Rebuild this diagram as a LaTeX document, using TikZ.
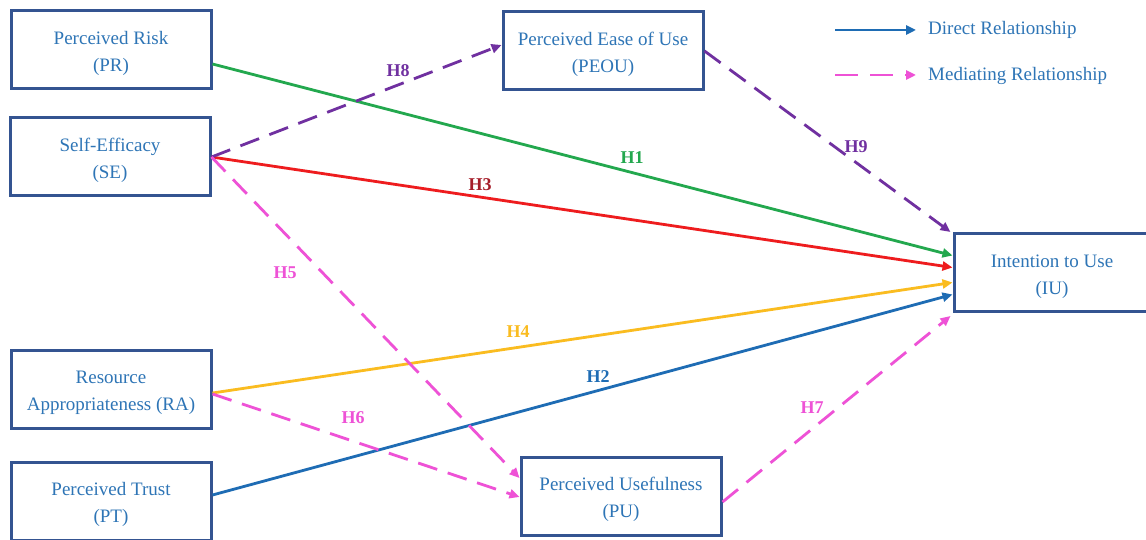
\documentclass[tikz,border=0pt]{standalone}
\usepackage{fontspec}
\setmainfont{Liberation Serif}
\usetikzlibrary{arrows.meta,calc}
\definecolor{boxc}{RGB}{52,84,145}
\definecolor{txtc}{RGB}{46,117,182}
\definecolor{cgreen}{RGB}{35,168,78}
\definecolor{cred}{RGB}{238,28,30}
\definecolor{cdred}{RGB}{165,28,40}
\definecolor{cpurp}{RGB}{112,48,160}
\definecolor{cmag}{RGB}{238,82,214}
\definecolor{cyel}{RGB}{250,188,32}
\definecolor{cblue}{RGB}{30,108,180}
\newcommand{\tstrut}{\rule{0pt}{21pt}}
\begin{document}
\begin{tikzpicture}[x=1pt,y=-1pt,
  box/.style={draw=boxc,line width=3pt,minimum width=200pt,minimum height=78pt,align=center,text=txtc,font=\fontsize{19}{27}\selectfont,inner sep=0pt},
  rel/.style={line width=2.8pt,-{Triangle[length=10pt,width=9pt]}},
  med/.style={rel,dash pattern=on 20pt off 11pt},
  hlab/.style={font=\fontsize{18}{20}\selectfont\bfseries,inner sep=1pt},
  legtext/.style={anchor=west,text=txtc,font=\fontsize{19}{22}\selectfont,inner sep=0pt}]
\useasboundingbox (0,0) rectangle (1146,540);
\fill[white] (0,0) rectangle (1146,540);

% boxes
\node[box] (pr) at (111,50) {\tstrut Perceived Risk\\(PR)};
\node[box] (se) at (110,157) {\tstrut Self-Efficacy\\(SE)};
\node[box] (peou) at (603,51) {\tstrut Perceived Ease of Use\\(PEOU)};
\node[box,minimum width=196pt] (iu) at (1052,272.5) {\tstrut Intention to Use\\(IU)};
\node[box] (ra) at (111,389) {\tstrut Resource\\Appropriateness (RA)};
\node[box] (pt) at (111,501) {\tstrut Perceived Trust\\(PT)};
\node[box] (pu) at (621,496) {\tstrut Perceived Usefulness\\(PU)};

% direct relationships
\draw[rel,cgreen] ($(pr.east)+(0,14)$) -- ($(iu.west)+(0,-17)$);
\draw[rel,cred] (se.east) -- ($(iu.west)+(0,-5)$);
\draw[rel,cyel] ($(ra.east)+(0,4)$) -- ($(iu.west)+(0,10)$);
\draw[rel,cblue] ($(pt.east)+(0,-6)$) -- ($(iu.west)+(0,22)$);

% mediating relationships
\draw[med,cpurp] (se.east) -- ($(peou.west)+(0,-6)$);
\draw[med,cpurp] (peou.east) -- ($(iu.north west)+(-2,0)$);
\draw[med,cmag] (se.east) -- ($(pu.west)+(0,-18)$);
\draw[med,cmag] ($(ra.east)+(0,5)$) -- ($(pu.west)+(0,1)$);
\draw[med,cmag] ($(pu.east)+(0,6)$) -- ($(iu.south west)+(-2,3)$);

% labels
\node[hlab,text=cgreen] (h1) at (632,158) {H1};
\node[hlab,text=cdred] (h3) at (480,185) {H3};
\node[hlab,text=cpurp] (h8) at (398,71) {H8};
\node[hlab,text=cpurp] (h9) at (856,147) {H9};
\node[hlab,text=cmag] (h5) at (285,273) {H5};
\node[hlab,text=cyel] (h4) at (518,332) {H4};
\node[hlab,text=cblue] (h2) at (598,377) {H2};
\node[hlab,text=cmag] (h6) at (353,418) {H6};
\node[hlab,text=cmag] (h7) at (812,408) {H7};

% legend
\coordinate (lds) at (835,30);
\coordinate (lde) at (916,30);
\draw[rel,cblue] (lds) -- (lde);
\node[legtext] (ldl) at (928,30) {Direct Relationship};
\coordinate (lms) at (835,75);
\coordinate (lme) at (916,75);
\draw[rel,cmag,dash pattern=on 23pt off 12pt] (lms) -- (lme);
\node[legtext] (lml) at (928,76) {Mediating Relationship};
\end{tikzpicture}
\end{document}
